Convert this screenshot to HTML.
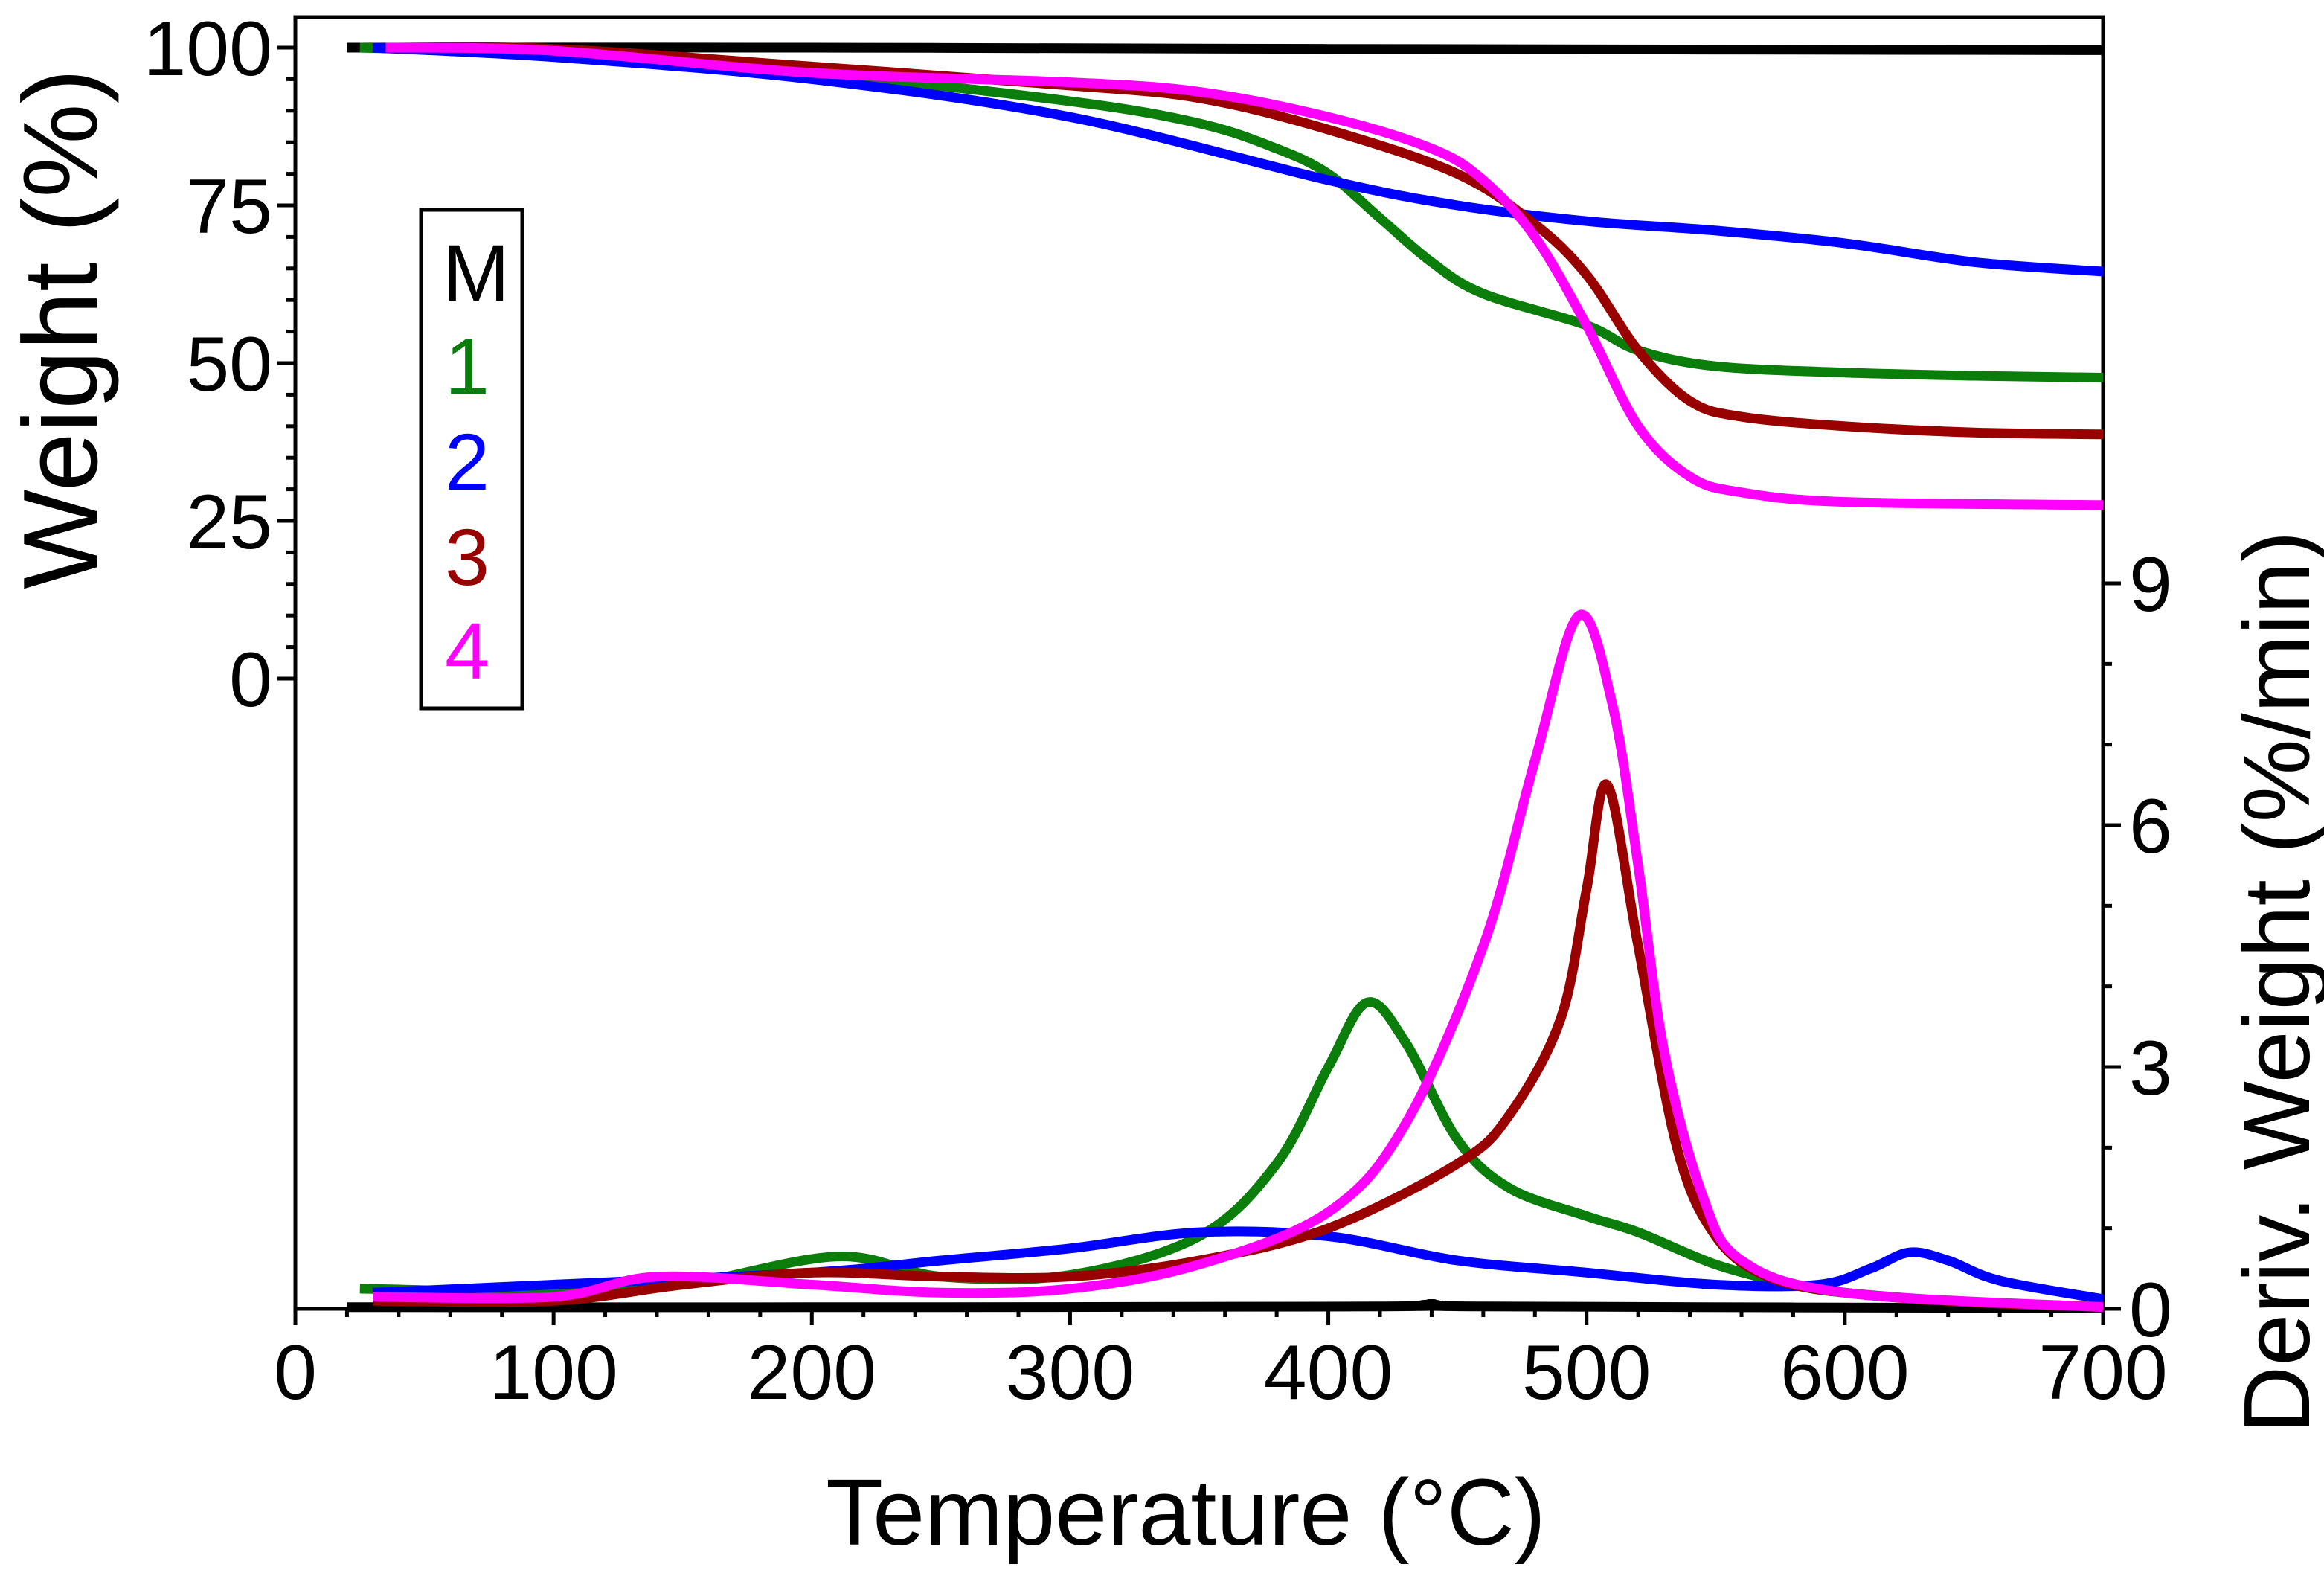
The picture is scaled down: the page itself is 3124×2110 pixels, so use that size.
<!DOCTYPE html>
<html><head><meta charset="utf-8"><style>
html,body{margin:0;padding:0;background:#fff;}
svg{display:block;font-family:"Liberation Sans",Arial,sans-serif;}
</style></head><body>
<svg id="chart" width="3124" height="2110" viewBox="0 0 3124 2110">
<g id="axes"></g>
<g id="series"></g>
<g id="legend">
<rect x="566" y="282" width="136" height="670" fill="#fff" stroke="#000" stroke-width="5"/>
<text x="640" y="404" font-size="108" text-anchor="middle" fill="#000">M</text>
<text x="628" y="530" font-size="108" text-anchor="middle" fill="#0a7d0a">1</text>
<text x="628" y="658" font-size="108" text-anchor="middle" fill="#0000ff">2</text>
<text x="628" y="786" font-size="108" text-anchor="middle" fill="#990000">3</text>
<text x="628" y="912" font-size="108" text-anchor="middle" fill="#ff00ff">4</text>
</g>
<text x="1594" y="2076" font-size="126" text-anchor="middle">Temperature (°C)</text>
<text transform="translate(130,442) rotate(-90)" font-size="142" text-anchor="middle">Weight (%)</text>
<text transform="translate(3104,1320) rotate(-90)" font-size="126" text-anchor="middle">Deriv. Weight (%/min)</text>
</svg>
<script>
const xTicks=[0,100,200,300,400,500,600,700];
const wTicks=[0,25,50,75,100];
const dTicks=[0,3,6,9];
// Weight curves: [temperature, weight%]
const wM=[[20,100],[200,100],[400,99.8],[700,99.6]];
const w1=[[25,100],[100,99],[200,96],[300,91.5],[350,88],[380,84],[400,80],[420,73],[440,66],[460,61],[500,56],[520,52],[550,49.5],[600,48.5],[650,48],[700,47.7]];
const w2=[[30,100],[100,98.5],[200,95],[300,89],[400,79],[450,75],[500,72.5],[550,71],[600,69],[650,66],[700,64.5]];
const w3=[[35,100],[100,99.8],[200,97],[300,94],[350,92],[400,87],[450,80],[480,72],[500,64],[520,52],[540,44],[560,41.5],[600,40],[650,39],[700,38.7]];
const w4=[[35,100],[100,99.5],[200,96],[300,94.5],[350,93],[400,89],[440,84],[460,79],[480,70],[500,56],[520,40],[540,32],[560,29.5],[600,28],[700,27.5]];
// Derivative curves: [temperature, %/min]
const dM=[[20,0.02],[200,0.02],[420,0.03],[440,0.06],[460,0.03],[700,0.01]];
const d1=[[25,0.25],[40,0.24],[100,0.2],[150,0.3],[210,0.65],[250,0.4],[300,0.42],[350,0.9],[380,1.8],[400,3.0],[415,3.8],[430,3.3],[450,2.1],[470,1.5],[500,1.15],[520,0.95],[550,0.55],[580,0.3],[600,0.2],[650,0.08],[700,0.03]];
const d2=[[30,0.2],[100,0.3],[200,0.45],[250,0.6],[300,0.75],[350,0.95],[400,0.9],[450,0.6],[500,0.45],[550,0.3],[590,0.3],[610,0.5],[625,0.7],[640,0.6],[660,0.35],[700,0.12]];
const d3=[[30,0.1],[100,0.1],[150,0.3],[200,0.45],[250,0.4],[300,0.4],[350,0.6],[400,1.0],[450,1.8],[470,2.4],[490,3.6],[500,5.2],[508,6.5],[520,4.5],[535,2.0],[550,0.9],[570,0.4],[600,0.2],[650,0.08],[700,0.03]];
const d4=[[30,0.15],[100,0.15],[140,0.4],[200,0.3],[250,0.2],[300,0.25],[350,0.55],[400,1.2],[430,2.3],[460,4.5],[480,6.8],[497,8.6],[510,7.5],[520,5.5],[530,3.2],[545,1.4],[560,0.6],[600,0.2],[700,0.02]];

const NS="http://www.w3.org/2000/svg";
const X0=397,X1=2827,TOP=23,BOT=1759;
const sx=t=>X0+(t/700)*(X1-X0);
const sw=w=>912-(w/100)*(912-64);
const sd=d=>1759-(d/9)*(1759-784);
function mk(tag,attrs,parent){const e=document.createElementNS(NS,tag);for(const k in attrs)e.setAttribute(k,attrs[k]);parent.appendChild(e);return e;}
const axes=document.getElementById('axes');
let f=mk('rect',{x:X0,y:TOP,width:X1-X0,height:BOT-TOP,fill:'none',stroke:'#000','stroke-width':5},axes);


for(let t=0;t<=700;t+=20){const major=t%100===0;let l=mk('line',{x1:sx(t),x2:sx(t),y1:BOT,y2:BOT+(major?22:11),stroke:'#000','stroke-width':5},axes);

}
xTicks.forEach(t=>{let tx=mk('text',{x:sx(t),y:1880,'font-size':104,'text-anchor':'middle'},axes);tx.textContent=t;

});
for(let w=0;w<=100;w+=5){const major=w%25===0;let l=mk('line',{x1:X0-(major?24:12),x2:X0,y1:sw(w),y2:sw(w),stroke:'#000','stroke-width':5},axes);

}
wTicks.forEach(w=>{let tx=mk('text',{x:366,y:sw(w)+37,'font-size':104,'text-anchor':'end'},axes);tx.textContent=w;

});
for(let d=0;d<=9;d+=1){const major=d%3===0;let l=mk('line',{x1:X1,x2:X1+(major?24:12),y1:sd(d),y2:sd(d),stroke:'#000','stroke-width':5},axes);

}
dTicks.forEach(d=>{let tx=mk('text',{x:2862,y:sd(d)+37,'font-size':104,'text-anchor':'start'},axes);tx.textContent=d;

});
function pathD(pts){let p=pts;let d='M'+p[0][0].toFixed(1)+','+p[0][1].toFixed(1);
for(let i=0;i<p.length-1;i++){const p0=p[Math.max(0,i-1)],p1=p[i],p2=p[i+1],p3=p[Math.min(p.length-1,i+2)];
const c1=[p1[0]+(p2[0]-p0[0])/6,p1[1]+(p2[1]-p0[1])/6],c2=[p2[0]-(p3[0]-p1[0])/6,p2[1]-(p3[1]-p1[1])/6];
d+=' C'+c1[0].toFixed(1)+','+c1[1].toFixed(1)+' '+c2[0].toFixed(1)+','+c2[1].toFixed(1)+' '+p2[0].toFixed(1)+','+p2[1].toFixed(1);}return d;}
const sg=document.getElementById('series');
const defs=[[wM,sw,'#000','weight-curve-m'],[dM,sd,'#000','deriv-curve-m'],[w1,sw,'#0a7d0a','weight-curve-1'],[d1,sd,'#0a7d0a','deriv-curve-1'],[w2,sw,'#0000ff','weight-curve-2'],[d2,sd,'#0000ff','deriv-curve-2'],[w3,sw,'#990000','weight-curve-3'],[d3,sd,'#990000','deriv-curve-3'],[w4,sw,'#ff00ff','weight-curve-4'],[d4,sd,'#ff00ff','deriv-curve-4']];
defs.forEach(([data,fy,col,name])=>{const pts=data.map(a=>[sx(a[0]),fy(a[1])]);
let p=mk('path',{d:pathD(pts),fill:'none',stroke:col,'stroke-width':13,'stroke-linejoin':'round'},sg);

});
</script>
</body></html>
